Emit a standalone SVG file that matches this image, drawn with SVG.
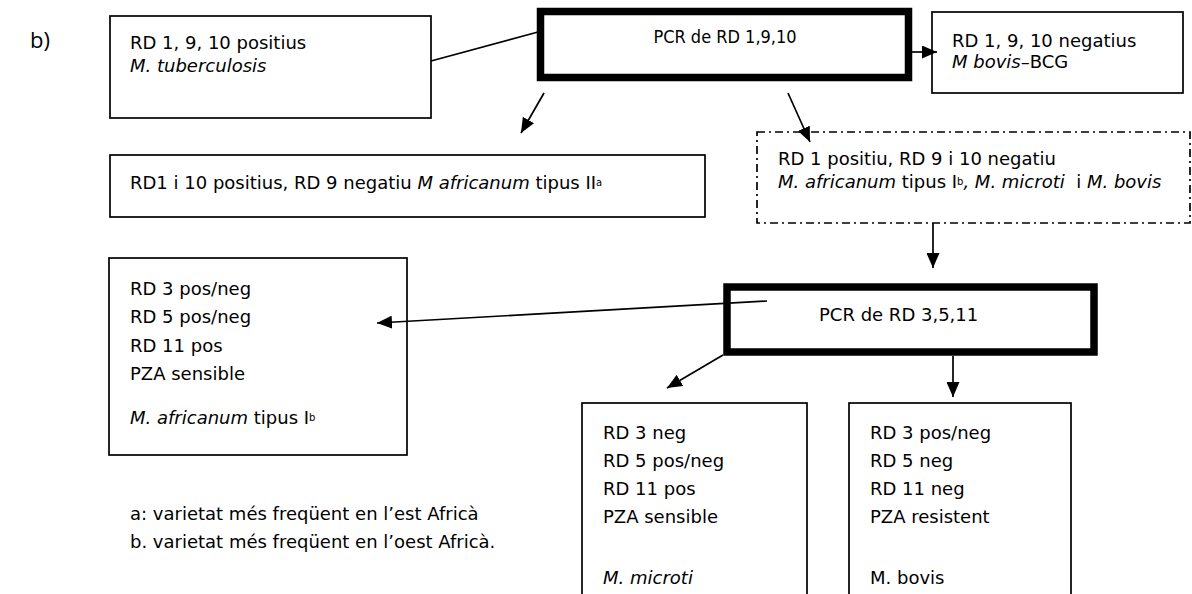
<svg xmlns="http://www.w3.org/2000/svg" width="1192" height="594" viewBox="0 0 1192 594">
<defs>
<marker id="ah" markerWidth="15" markerHeight="13" refX="15" refY="6.5" orient="auto" markerUnits="userSpaceOnUse">
<path d="M0,0 L15,6.5 L0,13 Z" fill="#000"/>
</marker>
<style>
.box{fill:#fff;stroke:#000;stroke-width:1.7}
.thick{fill:#fff;stroke:#000;stroke-width:7.5}
.dd{fill:#fff;stroke:#000;stroke-width:1.7;stroke-dasharray:8 4 2 4}
.t{font-family:"DejaVu Sans",Verdana,sans-serif;font-size:18px;fill:#000}
.c{font-family:"DejaVu Sans Condensed","DejaVu Sans",sans-serif;font-stretch:condensed}
.i{font-style:italic}
.sup{font-size:10px}
.conn{stroke:#000;stroke-width:1.7;fill:none}
.arr{stroke:#000;stroke-width:1.7;fill:none;marker-end:url(#ah)}
</style>
</defs>
<rect width="1192" height="594" fill="#fff"/>
<text x="30" y="48" style="font-family:'Open Sans',sans-serif;font-size:22px">b)</text>

<g id="n-tuberculosis">
<rect class="box" x="110" y="16" width="321" height="102"/>
<text class="t" x="130" y="49">RD 1, 9, 10 positius</text>
<text class="t i" x="130" y="72">M. tuberculosis</text>
</g>

<g id="n-pcr1">
<rect class="thick" x="540.5" y="11.5" width="368" height="66"/>
<text class="t c" x="725" y="43" text-anchor="middle">PCR de RD 1,9,10</text>
</g>

<g id="n-bcg">
<rect class="box" x="932" y="12" width="251" height="81"/>
<text class="t" x="952" y="47">RD 1, 9, 10 negatius</text>
<text class="t" x="952" y="68"><tspan class="i">M bovis</tspan>–BCG</text>
</g>

<g id="n-africanum2">
<rect class="box" x="110" y="155" width="595" height="62"/>
<text class="t" x="130" y="189">RD1 i 10 positius, RD 9 negatiu <tspan class="i">M africanum</tspan> tipus II<tspan class="sup" dy="-3">a</tspan></text>
</g>

<g id="n-rd1pos">
<rect class="dd" x="757" y="132" width="433" height="91"/>
<text class="t" x="778" y="165">RD 1 positiu, RD 9 i 10 negatiu</text>
<text class="t" x="778" y="188"><tspan class="i">M. africanum</tspan> tipus I<tspan class="sup" dy="-3">b</tspan><tspan class="i" dy="3">, M. microti&#160; </tspan>i <tspan class="i">M. bovis</tspan></text>
</g>

<g id="n-pcr2">
<rect class="thick" x="727" y="287" width="367" height="65"/>
<text class="t" x="819" y="321">PCR de RD 3,5,11</text>
</g>

<g id="n-africanum1">
<rect class="box" x="109" y="258" width="298" height="197"/>
<text class="t" x="130" y="295">RD 3 pos/neg</text>
<text class="t" x="130" y="323">RD 5 pos/neg</text>
<text class="t" x="130" y="352">RD 11 pos</text>
<text class="t" x="130" y="380">PZA sensible</text>
<text class="t" x="130" y="424"><tspan class="i">M. africanum</tspan> tipus I<tspan class="sup" dy="-3">b</tspan></text>
</g>

<g id="n-microti">
<rect class="box" x="582" y="403" width="225" height="200"/>
<text class="t" x="603" y="439">RD 3 neg</text>
<text class="t" x="603" y="467">RD 5 pos/neg</text>
<text class="t" x="603" y="495">RD 11 pos</text>
<text class="t" x="603" y="523">PZA sensible</text>
<text class="t i" x="603" y="584">M. microti</text>
</g>

<g id="n-bovis">
<rect class="box" x="849" y="403" width="222" height="200"/>
<text class="t" x="870" y="439">RD 3 pos/neg</text>
<text class="t" x="870" y="467">RD 5 neg</text>
<text class="t" x="870" y="495">RD 11 neg</text>
<text class="t" x="870" y="523">PZA resistent</text>
<text class="t" x="870" y="584">M. bovis</text>
</g>

<g id="footnotes">
<text class="t" x="130" y="520">a: varietat més freqüent en l’est Africà</text>
<text class="t" x="130" y="548">b. varietat més freqüent en l’oest Africà.</text>
</g>

<g id="connectors">
<line class="conn" x1="431" y1="61" x2="538" y2="32"/>
<line class="arr" x1="912" y1="52" x2="937" y2="52"/>
<line class="arr" x1="544" y1="93" x2="521" y2="133"/>
<line class="arr" x1="788" y1="93" x2="810" y2="142"/>
<line class="arr" x1="933" y1="223" x2="933" y2="268"/>
<line class="arr" x1="767" y1="301" x2="377" y2="323"/>
<line class="arr" x1="723" y1="355" x2="667" y2="388"/>
<line class="arr" x1="953" y1="356" x2="953" y2="397"/>
</g>
</svg>
